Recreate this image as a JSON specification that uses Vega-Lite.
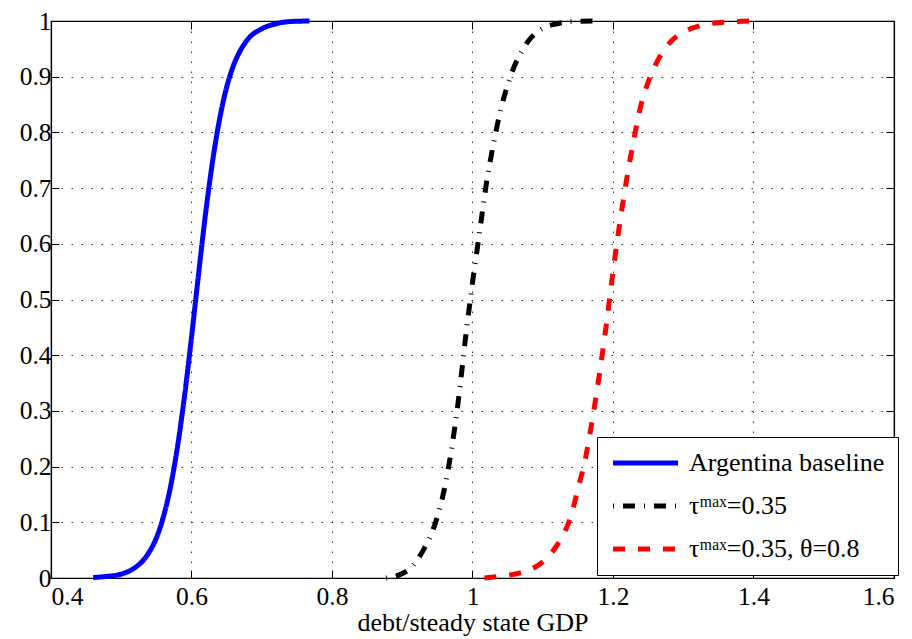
{
  "$schema": "https://vega.github.io/schema/vega-lite/v6.json",
  "autosize": {"type": "none"},
  "width": 843,
  "height": 557,
  "padding": {"left": 51, "top": 21, "right": 18, "bottom": 61},
  "background": "white",
  "config": {
    "view": {"stroke": "#000", "strokeWidth": 1.2},
    "font": "Liberation Serif",
    "style": {"guide-label": {"font": "Liberation Serif"}, "guide-title": {"font": "Liberation Serif"}},
    "axis": {
      "labelFont": "Liberation Serif",
      "titleFont": "Liberation Serif",
      "labelFontSize": 25.5,
      "titleFontSize": 26,
      "titleFontWeight": "normal",
      "labelColor": "#000",
      "titleColor": "#000",
      "domainColor": "#000",
      "domainWidth": 1.2,
      "tickColor": "#000",
      "tickWidth": 1,
      "gridColor": "#000",
      "gridWidth": 1,
      "gridDash": [1.5, 8.5],
      "gridOpacity": 0.8
    },
    "legend": {
      "labelFont": "Liberation Serif",
      "labelFontSize": 26,
      "labelColor": "#000"
    }
  },
  "data": {
    "values": [
      {"x": 0.46, "y": 0.001, "s": "Argentina baseline"},
      {"x": 0.48, "y": 0.003, "s": "Argentina baseline"},
      {"x": 0.5, "y": 0.007, "s": "Argentina baseline"},
      {"x": 0.52, "y": 0.019, "s": "Argentina baseline"},
      {"x": 0.53, "y": 0.03, "s": "Argentina baseline"},
      {"x": 0.54, "y": 0.047, "s": "Argentina baseline"},
      {"x": 0.55, "y": 0.072, "s": "Argentina baseline"},
      {"x": 0.56, "y": 0.11, "s": "Argentina baseline"},
      {"x": 0.57, "y": 0.163, "s": "Argentina baseline"},
      {"x": 0.58, "y": 0.235, "s": "Argentina baseline"},
      {"x": 0.59, "y": 0.326, "s": "Argentina baseline"},
      {"x": 0.6, "y": 0.432, "s": "Argentina baseline"},
      {"x": 0.61, "y": 0.545, "s": "Argentina baseline"},
      {"x": 0.62, "y": 0.654, "s": "Argentina baseline"},
      {"x": 0.63, "y": 0.748, "s": "Argentina baseline"},
      {"x": 0.64, "y": 0.824, "s": "Argentina baseline"},
      {"x": 0.65, "y": 0.881, "s": "Argentina baseline"},
      {"x": 0.66, "y": 0.921, "s": "Argentina baseline"},
      {"x": 0.67, "y": 0.948, "s": "Argentina baseline"},
      {"x": 0.68, "y": 0.967, "s": "Argentina baseline"},
      {"x": 0.7, "y": 0.986, "s": "Argentina baseline"},
      {"x": 0.72, "y": 0.995, "s": "Argentina baseline"},
      {"x": 0.74, "y": 0.999, "s": "Argentina baseline"},
      {"x": 0.768, "y": 1.0, "s": "Argentina baseline"},

      {"x": 0.877, "y": 0.0, "s": "τᵐᵃˣ=0.35"},
      {"x": 0.89, "y": 0.003, "s": "τᵐᵃˣ=0.35"},
      {"x": 0.9, "y": 0.008, "s": "τᵐᵃˣ=0.35"},
      {"x": 0.91, "y": 0.016, "s": "τᵐᵃˣ=0.35"},
      {"x": 0.92, "y": 0.03, "s": "τᵐᵃˣ=0.35"},
      {"x": 0.93, "y": 0.05, "s": "τᵐᵃˣ=0.35"},
      {"x": 0.94, "y": 0.075, "s": "τᵐᵃˣ=0.35"},
      {"x": 0.95, "y": 0.11, "s": "τᵐᵃˣ=0.35"},
      {"x": 0.96, "y": 0.16, "s": "τᵐᵃˣ=0.35"},
      {"x": 0.97, "y": 0.23, "s": "τᵐᵃˣ=0.35"},
      {"x": 0.98, "y": 0.32, "s": "τᵐᵃˣ=0.35"},
      {"x": 0.99, "y": 0.43, "s": "τᵐᵃˣ=0.35"},
      {"x": 1.0, "y": 0.53, "s": "τᵐᵃˣ=0.35"},
      {"x": 1.01, "y": 0.62, "s": "τᵐᵃˣ=0.35"},
      {"x": 1.02, "y": 0.71, "s": "τᵐᵃˣ=0.35"},
      {"x": 1.03, "y": 0.78, "s": "τᵐᵃˣ=0.35"},
      {"x": 1.04, "y": 0.84, "s": "τᵐᵃˣ=0.35"},
      {"x": 1.05, "y": 0.885, "s": "τᵐᵃˣ=0.35"},
      {"x": 1.06, "y": 0.92, "s": "τᵐᵃˣ=0.35"},
      {"x": 1.07, "y": 0.945, "s": "τᵐᵃˣ=0.35"},
      {"x": 1.08, "y": 0.965, "s": "τᵐᵃˣ=0.35"},
      {"x": 1.09, "y": 0.978, "s": "τᵐᵃˣ=0.35"},
      {"x": 1.1, "y": 0.987, "s": "τᵐᵃˣ=0.35"},
      {"x": 1.12, "y": 0.995, "s": "τᵐᵃˣ=0.35"},
      {"x": 1.14, "y": 0.999, "s": "τᵐᵃˣ=0.35"},
      {"x": 1.175, "y": 1.0, "s": "τᵐᵃˣ=0.35"},

      {"x": 1.017, "y": 0.0, "s": "τᵐᵃˣ=0.35, θ=0.8"},
      {"x": 1.04, "y": 0.003, "s": "τᵐᵃˣ=0.35, θ=0.8"},
      {"x": 1.06, "y": 0.007, "s": "τᵐᵃˣ=0.35, θ=0.8"},
      {"x": 1.08, "y": 0.014, "s": "τᵐᵃˣ=0.35, θ=0.8"},
      {"x": 1.1, "y": 0.029, "s": "τᵐᵃˣ=0.35, θ=0.8"},
      {"x": 1.12, "y": 0.058, "s": "τᵐᵃˣ=0.35, θ=0.8"},
      {"x": 1.13, "y": 0.08, "s": "τᵐᵃˣ=0.35, θ=0.8"},
      {"x": 1.14, "y": 0.11, "s": "τᵐᵃˣ=0.35, θ=0.8"},
      {"x": 1.15, "y": 0.16, "s": "τᵐᵃˣ=0.35, θ=0.8"},
      {"x": 1.16, "y": 0.21, "s": "τᵐᵃˣ=0.35, θ=0.8"},
      {"x": 1.17, "y": 0.28, "s": "τᵐᵃˣ=0.35, θ=0.8"},
      {"x": 1.18, "y": 0.36, "s": "τᵐᵃˣ=0.35, θ=0.8"},
      {"x": 1.19, "y": 0.45, "s": "τᵐᵃˣ=0.35, θ=0.8"},
      {"x": 1.2, "y": 0.55, "s": "τᵐᵃˣ=0.35, θ=0.8"},
      {"x": 1.21, "y": 0.64, "s": "τᵐᵃˣ=0.35, θ=0.8"},
      {"x": 1.22, "y": 0.72, "s": "τᵐᵃˣ=0.35, θ=0.8"},
      {"x": 1.23, "y": 0.79, "s": "τᵐᵃˣ=0.35, θ=0.8"},
      {"x": 1.24, "y": 0.85, "s": "τᵐᵃˣ=0.35, θ=0.8"},
      {"x": 1.25, "y": 0.89, "s": "τᵐᵃˣ=0.35, θ=0.8"},
      {"x": 1.26, "y": 0.92, "s": "τᵐᵃˣ=0.35, θ=0.8"},
      {"x": 1.28, "y": 0.96, "s": "τᵐᵃˣ=0.35, θ=0.8"},
      {"x": 1.3, "y": 0.98, "s": "τᵐᵃˣ=0.35, θ=0.8"},
      {"x": 1.32, "y": 0.99, "s": "τᵐᵃˣ=0.35, θ=0.8"},
      {"x": 1.35, "y": 0.997, "s": "τᵐᵃˣ=0.35, θ=0.8"},
      {"x": 1.4, "y": 1.0, "s": "τᵐᵃˣ=0.35, θ=0.8"}
    ]
  },
  "layer": [
    {
      "mark": {"type": "line", "strokeWidth": 5, "strokeCap": "butt", "interpolate": "monotone"},
      "encoding": {
        "x": {
          "field": "x", "type": "quantitative",
          "scale": {"domain": [0.4, 1.6], "nice": false, "zero": false},
          "axis": {
            "values": [0.4, 0.6, 0.8, 1.0, 1.2, 1.4, 1.6],
            "format": "~g",
            "title": "debt/steady state GDP",
            "labelFont": "Liberation Serif",
            "titleFont": "Liberation Serif",
            "tickSize": -8,
            "labelPadding": 14,
            "titlePadding": 0,
            "grid": true
          }
        },
        "y": {
          "field": "y", "type": "quantitative",
          "scale": {"domain": [0, 1], "nice": false},
          "axis": {
            "values": [0, 0.1, 0.2, 0.3, 0.4, 0.5, 0.6, 0.7, 0.8, 0.9, 1],
            "format": "~g",
            "title": null,
            "labelFont": "Liberation Serif",
            "tickSize": -8,
            "labelPadding": 8,
            "grid": true
          }
        },
        "color": {
          "field": "s", "type": "nominal",
          "scale": {
            "domain": ["Argentina baseline", "τᵐᵃˣ=0.35", "τᵐᵃˣ=0.35, θ=0.8"],
            "range": ["#0000ff", "#000000", "#ff0000"]
          },
          "legend": {
            "title": null,
            "orient": "none",
            "legendX": 546,
            "legendY": 416,
            "fillColor": "white",
            "strokeColor": "#000",
            "padding": 13,
            "symbolType": "M-1,0H5.5",
            "symbolSize": 400,
            "symbolStrokeWidth": 5,
            "labelOffset": 53,
            "labelFont": "Liberation Serif",
            "labelFontSize": 26,
            "rowPadding": 17,
            "labelLimit": 400
          }
        },
        "strokeDash": {
          "field": "s", "type": "nominal",
          "scale": {
            "domain": ["Argentina baseline", "τᵐᵃˣ=0.35", "τᵐᵃˣ=0.35, θ=0.8"],
            "range": [[1, 0], [1, 9, 12, 9], [12, 13]]
          },
          "legend": {
            "title": null,
            "orient": "none",
            "legendX": 546,
            "legendY": 416,
            "fillColor": "white",
            "strokeColor": "#000",
            "padding": 13,
            "symbolType": "M-1,0H5.5",
            "symbolSize": 400,
            "symbolStrokeWidth": 5,
            "labelOffset": 53,
            "labelFont": "Liberation Serif",
            "labelFontSize": 26,
            "rowPadding": 17,
            "labelLimit": 400
          }
        }
      }
    },
    {
      "mark": {"type": "line", "opacity": 0},
      "encoding": {
        "x": {
          "field": "x", "type": "quantitative",
          "axis": {
            "orient": "top",
            "values": [0.4, 0.6, 0.8, 1.0, 1.2, 1.4, 1.6],
            "labels": false,
            "title": null,
            "tickSize": -8,
            "grid": false
          }
        },
        "y": {
          "field": "y", "type": "quantitative",
          "axis": {
            "orient": "right",
            "values": [0, 0.1, 0.2, 0.3, 0.4, 0.5, 0.6, 0.7, 0.8, 0.9, 1],
            "labels": false,
            "title": null,
            "tickSize": -8,
            "grid": false
          }
        },
        "detail": {"field": "s", "type": "nominal"}
      }
    }
  ],
  "resolve": {"axis": {"x": "independent", "y": "independent"}}
}
